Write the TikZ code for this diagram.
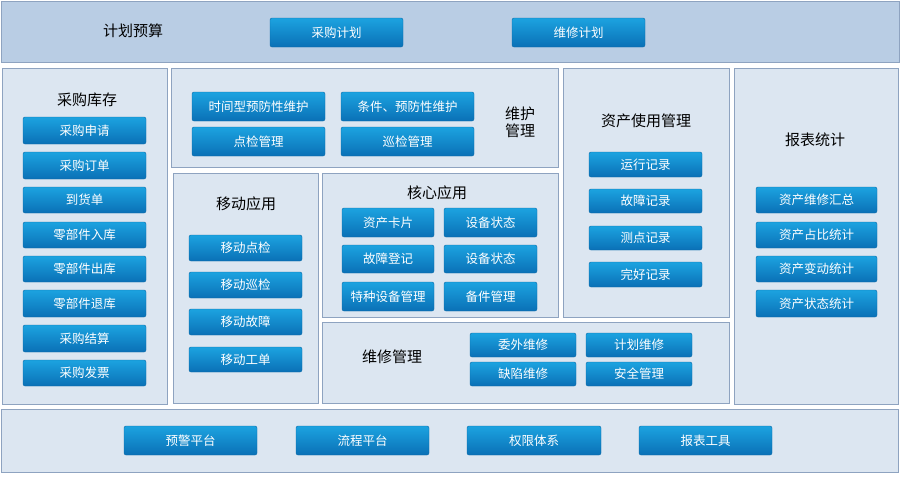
\documentclass[tikz,border=0pt]{standalone}
\usepackage{fontspec}
\setmainfont{Noto Sans CJK SC}
\definecolor{panelfill}{HTML}{DCE6F1}
\definecolor{topfill}{HTML}{B9CDE4}
\definecolor{panelline}{HTML}{8EA3C0}
\definecolor{btntop}{HTML}{1CA3E0}
\definecolor{btnbot}{HTML}{0A70B6}
\definecolor{btnedge}{HTML}{0B6AA8}
\tikzset{
  panelbox/.style={draw=panelline, line width=0.9pt, fill=panelfill, inner sep=0pt},
  topbox/.style={draw=panelline, line width=0.9pt, fill=topfill, inner sep=0pt},
  btnbox/.style={draw=btnedge, line width=0.4pt, top color=btntop, bottom color=btnbot,
    rounded corners=2pt, inner sep=0pt, text=white, font=\fontsize{12.5}{13}\selectfont},
  title/.style={text=black, font=\fontsize{15}{17}\selectfont, align=center, inner sep=0pt}
}
% #1 name, #2 x1, #3 y1, #4 x2, #5 y2, #6 style, #7 text
\newcommand\boxat[7]{\node[#6, minimum width={(#4-#2)*1pt}, minimum height={(#5-#3)*1pt}] (#1) at ({(#2+#4)/2},{(#3+#5)/2}) {#7};}
\begin{document}
\begin{tikzpicture}[x=1pt,y=-1pt]
\useasboundingbox[fill=white] (0,0) rectangle (900,482);
% panels
\boxat{top}{1}{1}{899}{62}{topbox}{}
\boxat{cgkc}{2}{68}{167}{404}{panelbox}{}
\boxat{whgl}{171}{68}{558}{167}{panelbox}{}
\boxat{zcsy}{563}{68}{729}{317}{panelbox}{}
\boxat{bbtj}{734}{68}{898}{404}{panelbox}{}
\boxat{ydyy}{173}{173}{318}{403}{panelbox}{}
\boxat{hxyy}{322}{173}{558}{317}{panelbox}{}
\boxat{wxgl}{322}{322}{729}{403}{panelbox}{}
\boxat{bottom}{1}{409}{898}{472}{panelbox}{}
% titles
\node[title] (t1) at (133,31) {计划预算};
\node[title] (t2) at (87,100) {采购库存};
\node[title] (t3) at (520,122) {维护\\管理};
\node[title] (t4) at (646,121) {资产使用管理};
\node[title] (t5) at (815,140) {报表统计};
\node[title] (t6) at (246,204) {移动应用};
\node[title] (t7) at (437,193) {核心应用};
\node[title] (t8) at (392,357) {维修管理};
% top buttons
\boxat{b1}{270}{18}{403}{47}{btnbox}{采购计划}
\boxat{b2}{512}{18}{645}{47}{btnbox}{维修计划}
% 采购库存
\boxat{c1}{23}{117}{146}{144}{btnbox}{采购申请}
\boxat{c2}{23}{152}{146}{179}{btnbox}{采购订单}
\boxat{c3}{23}{187}{146}{213}{btnbox}{到货单}
\boxat{c4}{23}{222}{146}{248}{btnbox}{零部件入库}
\boxat{c5}{23}{256}{146}{282}{btnbox}{零部件出库}
\boxat{c6}{23}{290}{146}{317}{btnbox}{零部件退库}
\boxat{c7}{23}{325}{146}{352}{btnbox}{采购结算}
\boxat{c8}{23}{360}{146}{386}{btnbox}{采购发票}
% 维护管理
\boxat{w1}{192}{92}{325}{121}{btnbox}{时间型预防性维护}
\boxat{w2}{341}{92}{474}{121}{btnbox}{条件、预防性维护}
\boxat{w3}{192}{127}{325}{156}{btnbox}{点检管理}
\boxat{w4}{341}{127}{474}{156}{btnbox}{巡检管理}
% 移动应用
\boxat{m1}{189}{235}{302}{261}{btnbox}{移动点检}
\boxat{m2}{189}{272}{302}{298}{btnbox}{移动巡检}
\boxat{m3}{189}{309}{302}{335}{btnbox}{移动故障}
\boxat{m4}{189}{347}{302}{372}{btnbox}{移动工单}
% 核心应用
\boxat{h1}{342}{208}{434}{237}{btnbox}{资产卡片}
\boxat{h2}{444}{208}{537}{237}{btnbox}{设备状态}
\boxat{h3}{342}{245}{434}{273}{btnbox}{故障登记}
\boxat{h4}{444}{245}{537}{273}{btnbox}{设备状态}
\boxat{h5}{342}{282}{434}{311}{btnbox}{特种设备管理}
\boxat{h6}{444}{282}{537}{311}{btnbox}{备件管理}
% 资产使用管理
\boxat{z1}{589}{152}{702}{177}{btnbox}{运行记录}
\boxat{z2}{589}{189}{702}{213}{btnbox}{故障记录}
\boxat{z3}{589}{226}{702}{250}{btnbox}{测点记录}
\boxat{z4}{589}{262}{702}{287}{btnbox}{完好记录}
% 维修管理
\boxat{x1}{470}{333}{576}{357}{btnbox}{委外维修}
\boxat{x2}{586}{333}{692}{357}{btnbox}{计划维修}
\boxat{x3}{470}{362}{576}{386}{btnbox}{缺陷维修}
\boxat{x4}{586}{362}{692}{386}{btnbox}{安全管理}
% 报表统计
\boxat{r1}{756}{187}{877}{213}{btnbox}{资产维修汇总}
\boxat{r2}{756}{222}{877}{248}{btnbox}{资产占比统计}
\boxat{r3}{756}{256}{877}{282}{btnbox}{资产变动统计}
\boxat{r4}{756}{290}{877}{317}{btnbox}{资产状态统计}
% bottom
\boxat{p1}{124}{426}{257}{455}{btnbox}{预警平台}
\boxat{p2}{296}{426}{429}{455}{btnbox}{流程平台}
\boxat{p3}{467}{426}{601}{455}{btnbox}{权限体系}
\boxat{p4}{639}{426}{772}{455}{btnbox}{报表工具}
\end{tikzpicture}
\end{document}
